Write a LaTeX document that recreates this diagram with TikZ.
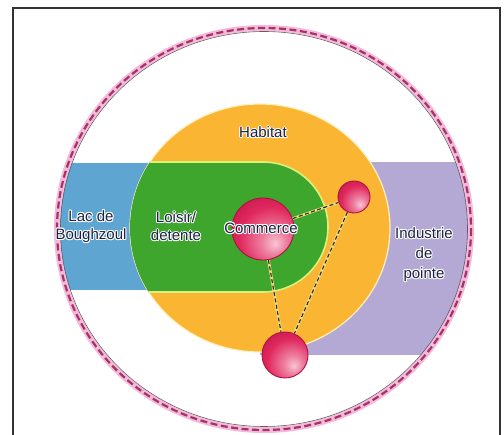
\documentclass[tikz,border=0pt]{standalone}
\usepackage{fontspec}
\setmainfont{Liberation Sans}
\usepackage{contour}
\contourlength{1pt}
\contournumber{8}
\definecolor{orangeC}{HTML}{FAB632}
\definecolor{orangeEdge}{HTML}{FFF0C0}
\definecolor{greenC}{HTML}{3EA52D}
\definecolor{greenEdge}{HTML}{D8F27A}
\definecolor{blueC}{HTML}{5FA5D2}
\definecolor{purpleC}{HTML}{B4A8D4}
\definecolor{ringPink}{HTML}{F4BBD8}
\definecolor{ringDash}{HTML}{A8306C}
\definecolor{ringLine}{HTML}{6A5A66}
\definecolor{txtC}{HTML}{1C2340}
\definecolor{ballhl}{HTML}{F8C6D4}
\definecolor{ballmain}{HTML}{E0285E}
\definecolor{balldark}{HTML}{B8124A}
\definecolor{ballrim}{HTML}{B01040}
\definecolor{frameC}{HTML}{333333}
\definecolor{linkGlow}{HTML}{F3DC7A}
\pgfdeclareradialshading{pinkball}{\pgfpoint{10bp}{-12bp}}{%
  color(0bp)=(ballhl); color(10bp)=(ballhl!55!ballmain); color(26bp)=(ballmain);
  color(44bp)=(balldark); color(50bp)=(balldark); color(80bp)=(balldark)}
\tikzset{
  lbl/.style={text=txtC, align=center, inner sep=0pt},
  ball/.style={circle, inner sep=0pt, shading=pinkball, draw=ballrim, line width=0.9pt},
  linkglow/.style={draw=linkGlow, line width=2.6pt},
  link/.style={draw=black!85, line width=1.1pt, dash pattern=on 4pt off 2.5pt},
}
\newcommand\hl[1]{\contour{white}{#1}}
\begin{document}
\begin{tikzpicture}[x=1pt,y=-1pt]
\useasboundingbox (0,0) rectangle (504,435);
\fill[white] (0,0) rectangle (504,435);
% frame
\draw[frameC, line width=1.6pt] (13,8) rectangle (500,450);
% side bands clipped to the ring
\begin{scope}
  \clip (264,229) ellipse [x radius=204, y radius=198];
  \fill[blueC] (40,163) rectangle (200,290);
  \fill[purpleC] (260,162) rectangle (490,355);
\end{scope}
% Habitat disc
\fill[orangeC, draw=orangeEdge, line width=1.2pt] (260,228) ellipse [x radius=130, y radius=124];
% green loisir shape
\begin{scope}
  \clip (260,228) ellipse [x radius=130, y radius=124];
  \filldraw[fill=greenC, draw=greenEdge, line width=1.6pt]
    (100,162) -- (263,162) arc[start angle=-90, end angle=90, radius=65] -- (100,292) -- cycle;
\end{scope}
% outer ring
\draw[ringPink, line width=6pt] (264,229) ellipse [x radius=207, y radius=201];
\draw[ringDash, line width=2.2pt, dash pattern=on 7pt off 3.5pt] (264,229) ellipse [x radius=207, y radius=201];
\draw[ringLine, line width=0.6pt] (264,229) ellipse [x radius=203.5, y radius=197.5];
% spheres
\node[ball, minimum size=62pt] (com) at (263,229) {};
\node[ball, minimum size=32pt] (sm) at (354,197) {};
\node[ball, minimum size=46pt] (bot) at (285,355) {};
% dashed links
\foreach \a/\b in {com/sm, com/bot, sm/bot}{
  \path[linkglow] (\a) -- (\b);
  \path[link] (\a) -- (\b);
}
% labels
\node[lbl, font=\fontsize{15}{18}\selectfont] (habitat) at (263,133) {\hl{Habitat}};
\node[lbl, font=\fontsize{15}{18}\selectfont] (lac) at (91,227) {\hl{Lac de}\\\hl{Boughzoul}};
\node[lbl, font=\fontsize{15}{18}\selectfont] (loisir) at (176,227) {\hl{Loisir/}\\\hl{detente}};
\node[lbl, font=\fontsize{15}{18}\selectfont] (comtxt) at (261,229) {\hl{Commerce}};
\node[lbl, font=\fontsize{15}{20}\selectfont] (indus) at (424,255) {\hl{Industrie}\\\hl{de}\\\hl{pointe}};
\end{tikzpicture}
\end{document}
